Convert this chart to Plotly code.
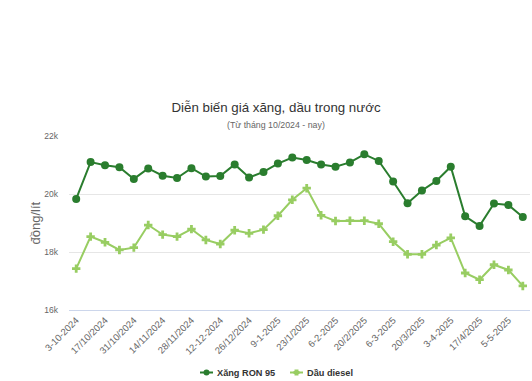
import plotly.graph_objects as go

dates = ["3-10-2024", "10/10/2024", "17/10/2024", "24/10/2024", "31/10/2024", "7/11/2024",
         "14/11/2024", "21/11/2024", "28/11/2024", "5/12/2024", "12-12-2024", "19/12/2024",
         "26/12/2024", "2-1-2025", "9-1-2025", "16/1/2025", "23/1/2025", "3-2-2025",
         "6-2-2025", "13/2/2025", "20/2/2025", "27/2/2025", "6-3-2025", "13/3/2025",
         "20/3/2025", "27/3/2025", "3-4-2025", "10-4-2025", "17/4/2025", "24/4/2025",
         "5-5-2025", "8-5-2025"]

ron95 = [19830, 21100, 20990, 20920, 20520, 20880, 20630, 20550, 20890, 20600, 20620, 21020,
         20570, 20760, 21050, 21255, 21170, 21020, 20940, 21090, 21370, 21140, 20430, 19680,
         20120, 20450, 20940, 19230, 18900, 19670, 19620, 19210]

diesel = [17425, 18530, 18335, 18070, 18150, 18930, 18600, 18530, 18790, 18415, 18275, 18750,
          18645, 18770, 19250, 19800, 20200, 19265, 19070, 19080, 19080, 18975, 18355, 17920,
          17920, 18240, 18490, 17275, 17045, 17560, 17380, 16830]

series_names = ["Xăng RON 95", "Dầu diesel"]
series_colors = ["#2a7d2e", "#98cd62"]

y_ticks = [16000, 18000, 20000, 22000]
y_tick_labels = ["16k", "18k", "20k", "22k"]

shown_dates = dates[0::2]

W, H = 532, 381
L, R, T, B = 69, 2, 136, 71
PW, PH = W - L - R, H - T - B


def px_x(x):
    return (x - L) / PW


def px_y(y):
    return (H - B - y) / PH


fig = go.Figure()
fig.add_trace(go.Scatter(
    x=dates, y=ron95, name=series_names[0], mode="lines+markers",
    line=dict(color=series_colors[0], width=2),
    marker=dict(symbol="circle", size=8, color=series_colors[0]),
))
fig.add_trace(go.Scatter(
    x=dates, y=diesel, name=series_names[1], mode="lines+markers",
    line=dict(color=series_colors[1], width=2),
    marker=dict(symbol="cross", size=7, color=series_colors[1]),
))

# manual legend (compact symbols like the reference)
ly = 372.5
shapes = [
    dict(type="line", xref="paper", yref="paper", x0=px_x(200), x1=px_x(213),
         y0=px_y(ly), y1=px_y(ly), line=dict(color=series_colors[0], width=2)),
    dict(type="circle", xref="paper", yref="paper", x0=px_x(203.5), x1=px_x(209.5),
         y0=px_y(ly + 3), y1=px_y(ly - 3), fillcolor=series_colors[0],
         line=dict(color=series_colors[0], width=0)),
    dict(type="line", xref="paper", yref="paper", x0=px_x(290), x1=px_x(303),
         y0=px_y(ly), y1=px_y(ly), line=dict(color=series_colors[1], width=2)),
    dict(type="rect", xref="paper", yref="paper", x0=px_x(294.5), x1=px_x(298.5),
         y0=px_y(ly + 3), y1=px_y(ly - 3), fillcolor=series_colors[1],
         line=dict(width=0)),
    dict(type="rect", xref="paper", yref="paper", x0=px_x(293.5), x1=px_x(299.5),
         y0=px_y(ly + 1.5), y1=px_y(ly - 1.5), fillcolor=series_colors[1],
         line=dict(width=0)),
]

fig.update_layout(
    width=W, height=H,
    margin=dict(l=L, r=R, t=T, b=B, autoexpand=False),
    paper_bgcolor="white", plot_bgcolor="white",
    font=dict(family="Liberation Sans, Arial, sans-serif", color="#666666"),
    title=dict(text="Diễn biến giá xăng, dầu trong nước",
               x=px_x(276), xanchor="center", xref="paper",
               y=1 - 107.5 / H, yanchor="middle", yref="container",
               font=dict(size=13.3, color="#333333")),
    showlegend=False,
    shapes=shapes,
    xaxis=dict(type="category", categoryorder="array", categoryarray=dates,
               range=[-0.5, len(dates) - 0.5],
               tickmode="array", tickvals=shown_dates, ticktext=shown_dates,
               tickangle=-45, tickfont=dict(size=9.5, color="#666666"),
               showgrid=False, showline=True, linecolor="#ccd6eb", linewidth=1,
               ticks="", zeroline=False, automargin=False),
    yaxis=dict(range=[16000, 22000], tickmode="array", tickvals=y_ticks,
               ticktext=y_tick_labels, tickfont=dict(size=8.5, color="#666666"),
               ticklabelstandoff=10,
               showgrid=True, gridcolor="#e6e6e6", gridwidth=1,
               zeroline=False, showline=False, ticks="", automargin=False),
    annotations=[
        dict(text="(Từ tháng 10/2024 - nay)", xref="paper", yref="paper",
             x=px_x(275.5), y=px_y(124.5), xanchor="center", yanchor="middle",
             showarrow=False, font=dict(size=8.8, color="#666666")),
        dict(text="đồng/lít", xref="paper", yref="paper",
             x=px_x(35), y=px_y(223.5), xanchor="center", yanchor="middle",
             textangle=-90, showarrow=False, font=dict(size=13, color="#666666")),
        dict(text="<b>" + series_names[0] + "</b>", xref="paper", yref="paper",
             x=px_x(215), y=px_y(ly), xanchor="left", yanchor="middle",
             showarrow=False, font=dict(size=9.2, color="#333333")),
        dict(text="<b>" + series_names[1] + "</b>", xref="paper", yref="paper",
             x=px_x(305), y=px_y(ly), xanchor="left", yanchor="middle",
             showarrow=False, font=dict(size=9.2, color="#333333")),
    ],
)

fig.write_html("out.html", config={"displayModeBar": False},
               post_script="document.body.style.margin='0';document.body.style.overflow='hidden';")
